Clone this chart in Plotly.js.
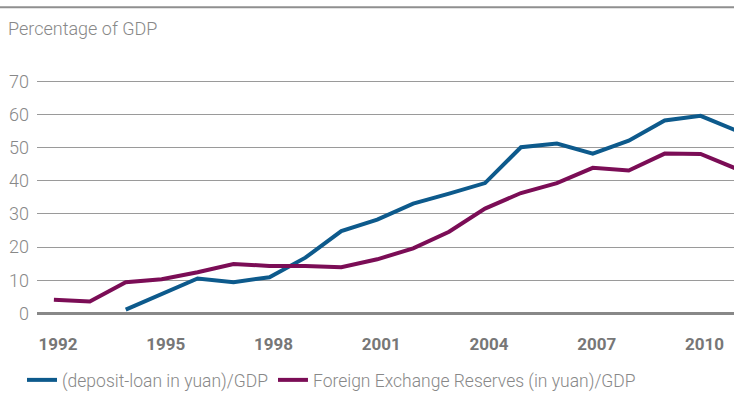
<!DOCTYPE html>
<html>
<head>
<meta charset="utf-8">
<script src="https://cdn.plot.ly/plotly-3.0.1.min.js"></script>
<style>html,body{margin:0;padding:0;background:#fff;}#chart{width:734px;height:403px;}</style>
</head>
<body>
<div id="chart"></div>
<script>
const years = [1992,1993,1994,1995,1996,1997,1998,1999,2000,2001,2002,2003,2004,2005,2006,2007,2008,2009,2010,2011];
const depositLoan = [null,null,1.1,5.8,10.5,9.4,10.9,16.8,24.8,28.3,33.1,36.1,39.3,50.1,51.2,48.2,52.1,58.2,59.6,55.1];
const fxReserves = [4.1,3.6,9.4,10.3,12.4,14.9,14.3,14.3,13.9,16.3,19.6,24.6,31.6,36.3,39.3,43.9,43.1,48.2,48.1,43.6];
const seriesNames = ["(deposit-loan in yuan)/GDP", "Foreign Exchange Reserves (in yuan)/GDP"];
const xTicks = [1992,1995,1998,2001,2004,2007,2010];
const yTicks = [0,10,20,30,40,50,60,70];
const yTitle = "Percentage of GDP";

const blue = "#0d5a8c";
const purple = "#7b0d56";
const fam = "Roboto, 'Noto Sans', sans-serif";

const traces = [
  {x: years, y: depositLoan, name: seriesNames[0], type: "scatter", mode: "lines",
   line: {color: blue, width: 4}, connectgaps: false},
  {x: years, y: fxReserves, name: seriesNames[1], type: "scatter", mode: "lines",
   line: {color: purple, width: 4}}
];

const layout = {
  width: 734, height: 403,
  margin: {l: 37, r: 0, t: 78, b: 88},
  paper_bgcolor: "#fff", plot_bgcolor: "#fff",
  showlegend: true,
  title: {text: yTitle, x: 8/734, xref: "container", xanchor: "left",
          y: 1 - 29/403, yref: "container", yanchor: "middle",
          font: {family: fam, size: 18, color: "#888", weight: 300}},
  xaxis: {range: [1991.53, 2010.93], tickvals: xTicks, ticktext: xTicks.map(String),
          showgrid: false, zeroline: false, showline: false, ticks: "",
          ticklabelstandoff: 17, ticklabelshift: 4,
          tickfont: {family: fam, size: 17, color: "#777", weight: 700},
          fixedrange: true},
  yaxis: {range: [-0.5, 71], tickvals: yTicks, ticktext: yTicks.map(String),
          showgrid: true, gridcolor: "#9a9a9a", gridwidth: 1,
          zeroline: true, zerolinecolor: "#888", zerolinewidth: 3,
          showline: false, ticks: "", ticklabelstandoff: 7,
          tickfont: {family: fam, size: 18, color: "#888", weight: 300}, fixedrange: true},
  legend: {orientation: "h", x: -15/697, xanchor: "left", y: -65/237, yanchor: "middle",
           font: {family: fam, size: 17.5, color: "#888", weight: 300},
           bgcolor: "rgba(0,0,0,0)"},
  shapes: [{type: "line", xref: "paper", yref: "paper", x0: -37/697, x1: 1,
            y0: (315.2 - 7.5)/237, y1: (315.2 - 7.5)/237,
            line: {color: "#8f8f8f", width: 2}}]
};

Plotly.newPlot("chart", traces, layout, {staticPlot: true, displayModeBar: false});
</script>
</body>
</html>
